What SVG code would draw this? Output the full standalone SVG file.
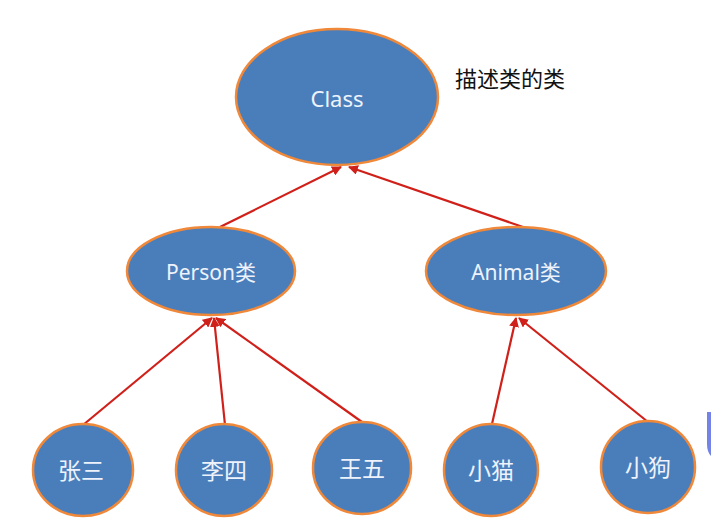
<svg xmlns="http://www.w3.org/2000/svg" width="711" height="526" viewBox="0 0 711 526">
<defs>
<marker id="ah" viewBox="0 0 10 10" refX="9" refY="5" markerWidth="4.5" markerHeight="4.5" orient="auto" markerUnits="strokeWidth">
<path d="M0,0 L10,5 L0,10 z" fill="#d0201a"/>
</marker>
<style>
.n{fill:#4a7ebb;stroke:#f0883a;stroke-width:2.5}
.t{fill:#eef3fb;font-family:"Noto Sans","Noto Sans CJK SC",sans-serif;text-anchor:middle}
.e{stroke:#d0201a;stroke-width:2.2;fill:none;marker-end:url(#ah)}
</style>
</defs>
<rect width="711" height="526" fill="#ffffff"/>
<g id="edges">
<line class="e" x1="220" y1="227" x2="341" y2="167"/>
<line class="e" x1="523" y1="227" x2="349" y2="167"/>
<line class="e" x1="83" y1="425" x2="212" y2="318"/>
<line class="e" x1="225" y1="425" x2="214" y2="318"/>
<line class="e" x1="362" y1="422" x2="216" y2="318"/>
<line class="e" x1="492" y1="424" x2="516" y2="318"/>
<line class="e" x1="648" y1="422" x2="519" y2="318"/>
</g>
<g id="class">
<ellipse class="n" cx="337" cy="97" rx="101" ry="68"/>
<text class="t" x="337" y="107" font-size="22">Class</text>
</g>
<g id="desc">
<text x="455" y="87" font-size="22" fill="#111" font-family="'Noto Sans CJK SC',sans-serif">描述类的类</text>
</g>
<g id="person">
<ellipse class="n" cx="211" cy="271" rx="84" ry="44"/>
<text class="t" x="211" y="280" font-size="21">Person类</text>
</g>
<g id="animal">
<ellipse class="n" cx="516" cy="271" rx="90" ry="44"/>
<text class="t" x="516" y="280" font-size="21">Animal类</text>
</g>
<g id="zhangsan">
<ellipse class="n" cx="83" cy="470" rx="50" ry="46"/>
<text class="t" x="81" y="479" font-size="23">张三</text>
</g>
<g id="lisi">
<ellipse class="n" cx="224" cy="470" rx="48" ry="46"/>
<text class="t" x="224" y="479" font-size="23">李四</text>
</g>
<g id="wangwu">
<ellipse class="n" cx="362" cy="468" rx="49" ry="46"/>
<text class="t" x="362" y="477" font-size="23">王五</text>
</g>
<g id="xiaomao">
<ellipse class="n" cx="491" cy="470" rx="47" ry="46"/>
<text class="t" x="491" y="479" font-size="23">小猫</text>
</g>
<g id="xiaogou">
<ellipse class="n" cx="648" cy="467" rx="47" ry="46"/>
<text class="t" x="648" y="476" font-size="23">小狗</text>
</g>
<path d="M707,412 H711 V456 Q707,452 707,444 Z" fill="#7384e6"/>
</svg>
